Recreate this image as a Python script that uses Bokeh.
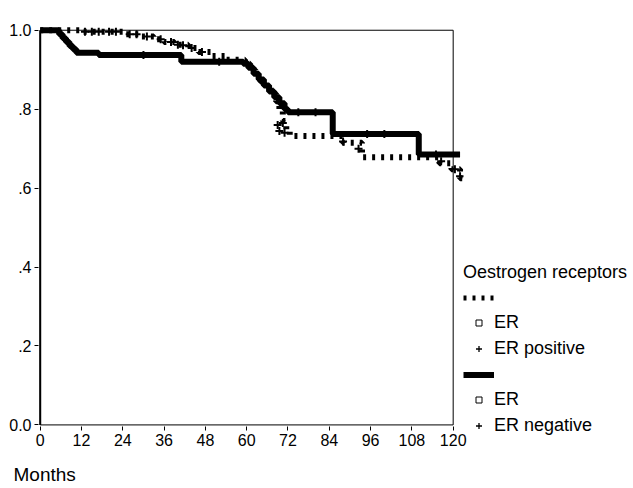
from bokeh.plotting import figure
from bokeh.models import Range1d, FixedTicker, Legend, LegendItem, Title
from bokeh.embed import file_html
from bokeh.resources import INLINE

# Kaplan-Meier cumulative survival by oestrogen receptor status (months, proportion)
er_pos_months = [0, 11.5, 24, 29, 33, 36, 39, 43, 46, 50, 54, 59.5, 61, 62.5, 64, 65.5, 67,
                 68.5, 69.5, 70.5, 71.5, 72.5, 88, 93.5, 116, 119.5, 122, 123]
er_pos_surv = [1.0, 0.996, 0.99, 0.984, 0.977, 0.97, 0.963, 0.955, 0.945, 0.935, 0.925,
               0.915, 0.9, 0.885, 0.87, 0.855, 0.84, 0.82, 0.80, 0.77, 0.745, 0.732, 0.715,
               0.678, 0.663, 0.648, 0.625, 0.625]

er_neg_months = [0, 5.5, 6.5, 7.5, 8.5, 9.5, 10.5, 17, 41, 59, 60.5, 62, 63.5, 65, 66.5, 68,
                 69.5, 71, 72, 85, 110, 122]
er_neg_surv = [1.0, 0.99, 0.98, 0.97, 0.96, 0.952, 0.943, 0.937, 0.92, 0.915, 0.905, 0.89,
               0.875, 0.86, 0.845, 0.83, 0.815, 0.80, 0.792, 0.737, 0.685, 0.685]

# censored observations
er_pos_censor_months = [13, 15, 17, 20, 22, 26, 28, 31, 35, 38, 40, 41.5, 44, 47, 69, 69.5,
                        70.5, 71, 88, 92.5, 116.5, 120.5, 122]
er_pos_censor_surv = [0.996, 0.996, 0.996, 0.996, 0.996, 0.99, 0.99, 0.984, 0.977, 0.97,
                      0.963, 0.962, 0.955, 0.945, 0.76, 0.745, 0.765, 0.74, 0.718, 0.70,
                      0.668, 0.648, 0.63]
er_neg_censor_months = [30, 52, 75, 80, 95, 100, 115]
er_neg_censor_surv = [0.937, 0.92, 0.792, 0.792, 0.737, 0.737, 0.685]

x_ticks = [0, 12, 24, 36, 48, 60, 72, 84, 96, 108, 120]
y_ticks = [0, 0.2, 0.4, 0.6, 0.8, 1.0]
y_tick_labels = ["0.0", ".2", ".4", ".6", ".8", "1.0"]

FONT = "Liberation Sans"
NAN = float("nan")

p = figure(frame_width=425, frame_height=401,
           x_range=Range1d(-0.5, 123), y_range=Range1d(-0.004, 1.012),
           min_border_left=38, min_border_right=0, min_border_top=25, min_border_bottom=0,
           output_backend="svg", toolbar_location=None)
p.outline_line_color = None
p.xgrid.visible = False
p.ygrid.visible = False
p.background_fill_color = "white"
p.border_fill_color = "white"

# plot box
p.quad(left=[0], right=[120], bottom=[0], top=[1.0], fill_color=None,
       line_color="black", line_width=1)
p.segment(x0=[0], y0=[0], x1=[0], y1=[1.0], line_color="black", line_width=2)

pos_step = p.step(er_pos_months, er_pos_surv, mode="after", line_color="black",
                  line_width=6, line_dash="3 6")
neg_step = p.step(er_neg_months, er_neg_surv, mode="after", line_color="black",
                  line_width=6)
p.scatter(er_pos_censor_months, er_pos_censor_surv, marker="cross", size=8,
          line_color="black", line_width=2)
p.scatter(er_neg_censor_months, er_neg_censor_surv, marker="cross", size=8,
          line_color="black", line_width=2)

# legend swatches (no visible points of their own)
leg_pos_line = p.line([NAN], [NAN], line_color="black", line_width=5, line_dash="3 6")
leg_neg_line = p.line([NAN], [NAN], line_color="black", line_width=6)
leg_square = p.scatter([NAN], [NAN], marker="square", fill_color=None, line_color="black",
                       line_width=1)
leg_cross = p.scatter([NAN], [NAN], marker="cross", line_color="black", line_width=1.3)

for ax in (p.xaxis, p.yaxis):
    ax.axis_line_color = None
    ax.major_tick_in = 0
    ax.major_tick_out = 4
    ax.major_tick_line_color = "black"
    ax.minor_tick_line_color = None
    ax.major_label_text_font = FONT
    ax.major_label_text_font_size = "16px"
    ax.major_label_text_color = "black"
    ax.major_label_standoff = 3

p.xaxis.ticker = FixedTicker(ticks=x_ticks)
p.yaxis.ticker = FixedTicker(ticks=y_ticks)
p.yaxis.major_label_overrides = dict(zip(y_ticks, y_tick_labels))

p.add_layout(Title(text="Months", align="left", offset=-25, standoff=26, text_font=FONT,
                   text_font_size="19px", text_font_style="normal",
                   text_color="black"), "below")

legend = Legend(items=[
    LegendItem(label=" ", renderers=[leg_pos_line]),
    LegendItem(label="ER", renderers=[leg_square]),
    LegendItem(label="ER positive", renderers=[leg_cross]),
    LegendItem(label=" ", renderers=[leg_neg_line]),
    LegendItem(label="ER", renderers=[leg_square]),
    LegendItem(label="ER negative", renderers=[leg_cross]),
], title="Oestrogen receptors", location=(0, -10))
legend.title_text_font = FONT
legend.title_text_font_size = "18px"
legend.title_text_font_style = "normal"
legend.title_text_color = "black"
legend.title_standoff = 4
legend.label_text_font = FONT
legend.label_text_font_size = "18px"
legend.label_text_color = "black"
legend.glyph_width = 31
legend.glyph_height = 15
legend.label_height = 20
legend.label_standoff = 0
legend.spacing = 5
legend.padding = 0
legend.margin = 0
legend.border_line_color = None
legend.background_fill_alpha = 0
p.add_layout(legend, "right")

open("out.html", "w").write(file_html(p, INLINE))
